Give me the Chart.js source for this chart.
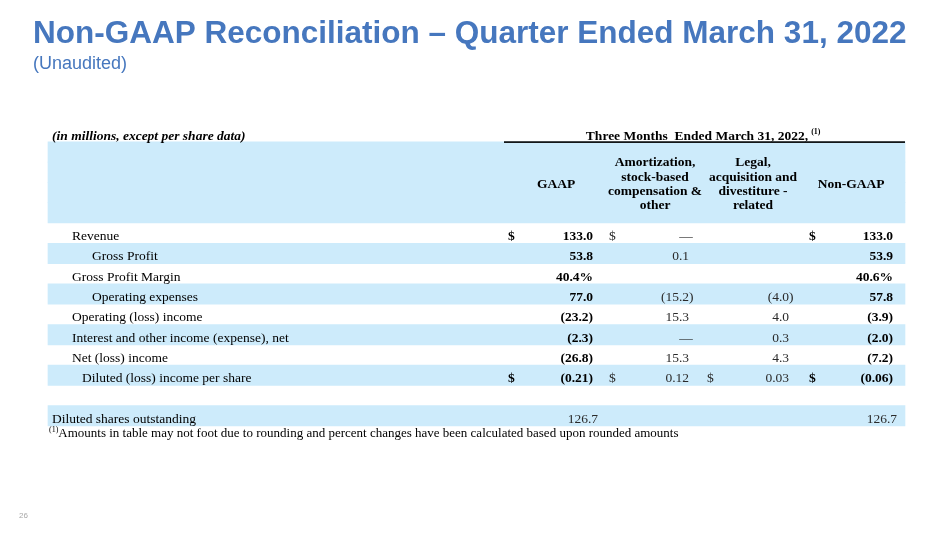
<!DOCTYPE html>
<html>
<head>
<meta charset="utf-8">
<title>Non-GAAP Reconciliation</title>
<script src="https://cdn.jsdelivr.net/npm/chart.js@4.4.1/dist/chart.umd.min.js"></script>
<style>
  html, body { margin: 0; padding: 0; background: #fff; }
  #wrap { width: 950px; height: 535px; }
</style>
</head>
<body>
<div id="wrap"><canvas id="recon" width="950" height="535"></canvas></div>
<script>
// --------------------------------------------------
//  DATA
// --------------------------------------------------
const pageTitle = 'Non-GAAP Reconciliation \u2013 Quarter Ended March 31, 2022';
const pageSubtitle = '(Unaudited)';
const pageNumber = '26';
const unitsLabel = '(in millions, except per share data)';
const periodLabel = 'Three Months  Ended March 31, 2022,';
const footnoteMark = '(1)';
const footnoteText = 'Amounts in table may not foot due to rounding and percent changes have been calculated based upon rounded amounts';

const columnHeads = [
    ['GAAP'],
    ['Amortization,', 'stock-based', 'compensation &', 'other'],
    ['Legal,', 'acquisition and', 'divestiture -', 'related'],
    ['Non-GAAP']
];

const rowLabels = [
    'Revenue', 'Gross Profit', 'Gross Profit Margin', 'Operating expenses',
    'Operating (loss) income', 'Interest and other income (expense), net',
    'Net (loss) income', 'Diluted (loss) income per share'
];
const rowKinds = ['num', 'num', 'pct', 'num', 'num', 'num', 'num', 'eps'];

const gaapValues    = [133.0, 53.8, 40.4, 77.0, -23.2, -2.3, -26.8, -0.21];
const amortValues   = [0, 0.1, null, -15.2, 15.3, 0, 15.3, 0.12];
const legalValues   = [null, null, null, -4.0, 4.0, 0.3, 4.3, 0.03];
const nonGaapValues = [133.0, 53.9, 40.6, 57.8, -3.9, -2.0, -7.2, -0.06];

// which columns carry a "$" sign on each row (GAAP, Amort, Legal, Non-GAAP)
const dollarSigns = [
    [true, true, false, true], [false, false, false, false], [false, false, false, false],
    [false, false, false, false], [false, false, false, false], [false, false, false, false],
    [false, false, false, false], [true, true, true, true]
];

const sharesLabel = 'Diluted shares outstanding';
const sharesGaap = 126.7;
const sharesNonGaap = 126.7;

// --------------------------------------------------
//  LAYOUT (page units = px)
// --------------------------------------------------
const TABLE_L = 48, TABLE_R = 905;
const RULE_L = 504;
const BAND_COLOR = '#CDEBFB';
const TITLE_COLOR = '#4677BE';
const SERIF = '"Liberation Serif", "Times New Roman", serif';
const SANS = '"Liberation Sans", Arial, sans-serif';

const colDollar = [508, 609, 707, 809];
const colRight = [593, 689, 789, 893];
const colHeadCenter = [556, 655, 753, 851];
const rowIndent = [72, 92, 72, 92, 72, 72, 72, 82];

// slots on the y category axis
const slots = ['units', 'head1', 'head2', 'head3', 'head4']
    .concat(rowLabels)
    .concat(['gap', 'shares', 'note']);
const shadedSlots = ['head1', 'head2', 'head3', 'head4', 'Gross Profit', 'Operating expenses',
    'Interest and other income (expense), net', 'Diluted (loss) income per share', 'shares'];

const bandData = slots.map(s => shadedSlots.includes(s) ? [TABLE_L, TABLE_R] : null);

function fmt(v, kind) {
    if (v === null || v === undefined) return '';
    if (v === 0) return '\u2014';
    const d = kind === 'eps' ? 2 : 1;
    const s = Math.abs(v).toFixed(d) + (kind === 'pct' ? '%' : '');
    return v < 0 ? '(' + s + ')' : s;
}

// --------------------------------------------------
//  TEXT PLUGIN
// --------------------------------------------------
const tableText = {
    id: 'tableText',
    afterDatasetsDraw(chart) {
        const { ctx, scales: { x, y } } = chart;
        const px = v => x.getPixelForValue(v);
        const py = key => y.getPixelForValue(slots.indexOf(key));

        function txt(str, xv, yv, font, align, color) {
            ctx.font = font;
            ctx.textAlign = align || 'left';
            ctx.fillStyle = color || '#000';
            ctx.fillText(str, xv, yv);
        }

        ctx.save();
        ctx.textBaseline = 'alphabetic';

        // page title
        txt(pageTitle, 33, 42.5, 'bold 31.5px ' + SANS, 'left', TITLE_COLOR);
        txt(pageSubtitle, 33, 68.5, '18px ' + SANS, 'left', TITLE_COLOR);
        txt(pageNumber, 19, 518, '8px ' + SANS, 'left', '#a8a8a8');

        ctx.textBaseline = 'middle';
        const fB = 'bold 13.5px ' + SERIF;
        const fR = '13.5px ' + SERIF;

        // table header
        const yUnits = py('units') + 4.5;
        txt(unitsLabel, 52, yUnits, 'italic bold 13.5px ' + SERIF);
        ctx.font = fB;
        const pw = ctx.measureText(periodLabel).width;
        const pStart = 697 - pw / 2;
        txt(periodLabel, pStart, yUnits, fB);
        txt(footnoteMark, pStart + pw + 3, yUnits - 4, 'bold 8px ' + SERIF);

        const ruleY = (py('units') + py('head1')) / 2;
        ctx.fillStyle = '#000';
        ctx.fillRect(px(RULE_L), ruleY - 0.5, px(TABLE_R) - px(RULE_L), 1.6);

        const bandMid = (py('head2') + py('head3')) / 2 + 2;
        columnHeads.forEach((lines, c) => {
            const lh = 14.3;
            lines.forEach((line, k) => {
                const yy = bandMid + (k - (lines.length - 1) / 2) * lh;
                txt(line, px(colHeadCenter[c]), yy, fB, 'center');
            });
        });

        // body rows
        const cols = [gaapValues, amortValues, legalValues, nonGaapValues];
        rowLabels.forEach((label, r) => {
            const yy = py(label) + 3.5;
            txt(label, px(rowIndent[r]), yy, fR);
            cols.forEach((vals, c) => {
                const bold = c === 0 || c === 3;
                const font = bold ? fB : fR;
                const color = bold ? '#000' : '#2a2a2a';
                if (dollarSigns[r][c]) txt('$', px(colDollar[c]), yy, font, 'left', color);
                const v = vals[r];
                const s = fmt(v, rowKinds[r]);
                if (!s) return;
                if (s === '\u2014') {
                    txt(s, px(colRight[c] - 3), yy, fR, 'center', color);
                } else if (!bold && v < 0) {
                    ctx.font = font;
                    const hang = ctx.measureText(')').width;
                    txt(s, px(colRight[c]) + hang, yy, font, 'right', color);
                } else {
                    txt(s, px(colRight[c]), yy, font, 'right', color);
                }
            });
        });

        // shares row
        const ys = py('shares') + 4;
        txt(sharesLabel, px(52), ys, fR);
        txt(sharesGaap.toFixed(1), px(colRight[0] + 5), ys, fR, 'right', '#2a2a2a');
        txt(sharesNonGaap.toFixed(1), px(colRight[3] + 4), ys, fR, 'right', '#2a2a2a');

        // footnote
        const yn = py('note') - 3;
        txt(footnoteMark, px(49), yn - 3, '8px ' + SERIF);
        ctx.font = '8px ' + SERIF;
        const mw = ctx.measureText(footnoteMark).width;
        txt(footnoteText, px(49) + mw, yn, '13px ' + SERIF);

        ctx.restore();
    }
};

// --------------------------------------------------
//  CHART
// --------------------------------------------------
new Chart(document.getElementById('recon').getContext('2d'), {
    type: 'bar',
    data: {
        labels: slots,
        datasets: [{
            data: bandData,
            backgroundColor: BAND_COLOR,
            borderWidth: 0,
            barPercentage: 1,
            categoryPercentage: 1
        }]
    },
    options: {
        indexAxis: 'y',
        responsive: false,
        animation: false,
        layout: { padding: { top: 121.5, bottom: 88.7, left: 0, right: 0 } },
        plugins: {
            legend: { display: false },
            tooltip: { enabled: false },
            title: { display: false }
        },
        scales: {
            x: { type: 'linear', min: 0, max: 950, display: false },
            y: { type: 'category', display: false, offset: true, grid: { display: false } }
        }
    },
    plugins: [tableText]
});
</script>
</body>
</html>
